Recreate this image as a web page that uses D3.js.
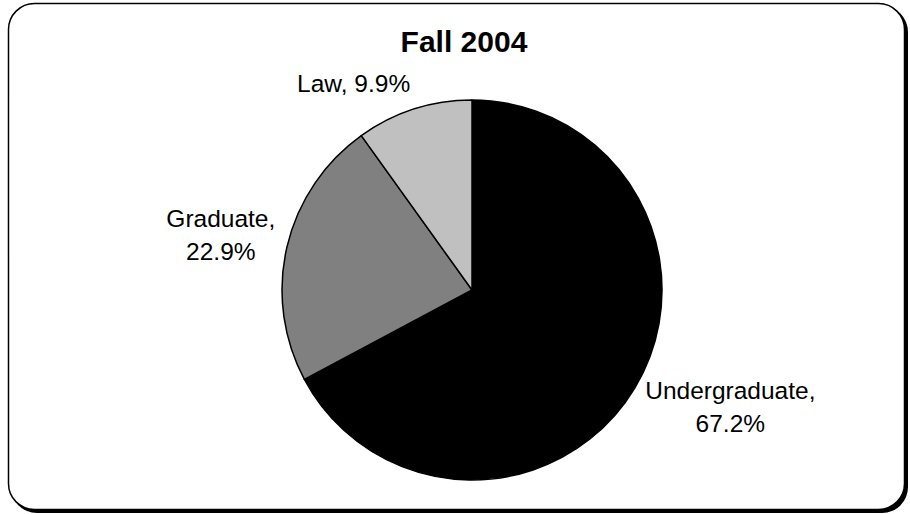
<!DOCTYPE html>
<html>
<head>
<meta charset="utf-8">
<script src="https://cdn.jsdelivr.net/npm/d3@7"></script>
<style>
  body { margin: 0; background: #fff; }
  svg text { font-family: "Liberation Sans", Arial, sans-serif; fill: #000; }
</style>
</head>
<body>
<svg id="chart" width="910" height="514"></svg>
<script>
// Data
var title = 'Fall 2004';
var categories = ['Undergraduate', 'Graduate', 'Law'];
var shares = [67.2, 22.9, 9.9];
var colors = ['#000000', '#808080', '#c0c0c0'];

var cx = 472, cy = 290, radius = 190;
var labelGap = 12;
var fontSize = 24.5, lineHeight = 33;

var svg = d3.select('#chart');

// frame with shadow
svg.append('rect')
  .attr('x', 11).attr('y', 6)
  .attr('width', 897).attr('height', 507)
  .attr('rx', 26).attr('ry', 26)
  .style('fill', '#000');
svg.append('rect')
  .attr('x', 8.5).attr('y', 3.5)
  .attr('width', 896).attr('height', 506)
  .attr('rx', 26).attr('ry', 26)
  .style('fill', '#fff')
  .style('stroke', '#000')
  .style('stroke-width', 1.5);

svg.append('text')
  .attr('x', 464).attr('y', 52)
  .attr('text-anchor', 'middle')
  .style('font-size', '30px')
  .style('font-weight', 'bold')
  .text(title);

var data = categories.map(function (c, i) {
  return { name: c, value: shares[i], color: colors[i] };
});

var pie = d3.pie()
  .sort(null)
  .value(function (d) { return d.value; });

var arc = d3.arc()
  .innerRadius(0)
  .outerRadius(radius);

var arcs = pie(data);

var g = svg.append('g')
  .attr('transform', 'translate(' + cx + ',' + cy + ')');

g.selectAll('path')
  .data(arcs)
  .enter().append('path')
  .attr('d', arc)
  .style('fill', function (d) { return d.data.color; })
  .style('stroke', '#000')
  .style('stroke-width', 1.5)
  .style('stroke-linejoin', 'round');

// labels: outside end, wrapped when too wide
var fmt = d3.format('.1f');
arcs.forEach(function (d) {
  var mid = (d.startAngle + d.endAngle) / 2;
  var r = radius + labelGap;
  var px = Math.sin(mid) * r, py = -Math.cos(mid) * r;

  var lg = g.append('g');
  var full = d.data.name + ', ' + fmt(d.data.value) + '%';
  var t = lg.append('text')
    .attr('text-anchor', 'middle')
    .style('font-size', fontSize + 'px')
    .text(full);
  var lines = [full];
  if (t.node().getComputedTextLength() > 130) {
    lines = [d.data.name + ',', fmt(d.data.value) + '%'];
    t.text(null);
    t.selectAll('tspan')
      .data(lines)
      .enter().append('tspan')
      .attr('x', 0)
      .attr('y', function (l, i) { return i * lineHeight; })
      .text(function (l) { return l; });
  }
  var bb = t.node().getBBox();
  var sn = Math.sin(mid), cs = Math.cos(mid);
  var boxH = (lines.length - 1) * lineHeight + fontSize;
  var left = sn < 0 ? px - bb.width : px;
  var top = py - boxH * (1 + cs) / 2;
  // first baseline sits ~0.76em under the box top
  lg.attr('transform', 'translate(' + (left - bb.x) + ',' + (top + fontSize * 0.76) + ')');
});
</script>
</body>
</html>
